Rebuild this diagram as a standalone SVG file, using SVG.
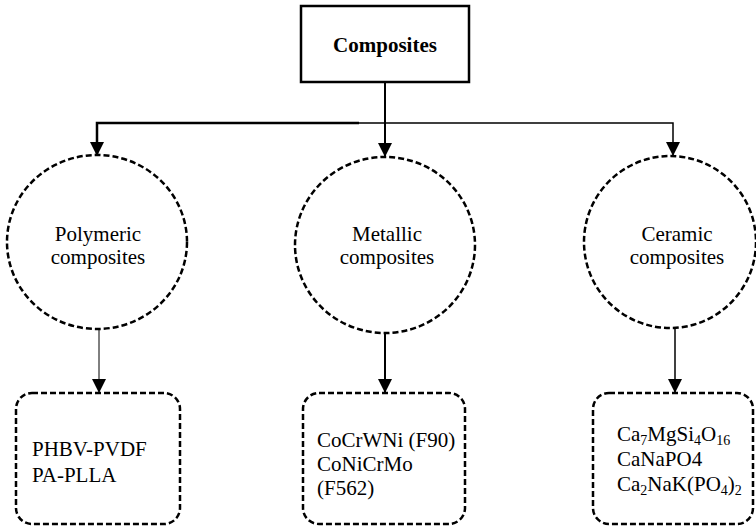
<svg xmlns="http://www.w3.org/2000/svg" width="756" height="529" viewBox="0 0 756 529">
<style>
text{font-family:'Liberation Serif','Times New Roman','DejaVu Serif',serif;font-size:21px;fill:#000}
.b{font-weight:bold}
.c{text-anchor:middle}
.ell{fill:none;stroke:#000;stroke-width:2.5;stroke-dasharray:6 3}
.box{fill:none;stroke:#000;stroke-width:2.5;stroke-dasharray:6 3}
.ln{fill:none;stroke:#000}
.s{font-size:14px}
</style>
<defs>
<marker id="ah" viewBox="0 0 14 16" refX="14" refY="7" markerWidth="14" markerHeight="16" markerUnits="userSpaceOnUse" orient="auto">
<path d="M0,0 L14,7 L0,14 Z" fill="#000"/>
</marker>
</defs>
<g id="connectors">
<line class="ln" x1="385" y1="82" x2="385" y2="123" stroke-width="2"/>
<polyline class="ln" points="359,123 97,123 97,156" stroke-width="2.5" marker-end="url(#ah)"/>
<polyline class="ln" points="358,123 673,123 673,156" stroke-width="1.5" marker-end="url(#ah)"/>
<line class="ln" x1="385" y1="123" x2="385" y2="157" stroke-width="2" marker-end="url(#ah)"/>
<line class="ln" x1="99" y1="329" x2="99" y2="393" stroke-width="1" marker-end="url(#ah)"/>
<line class="ln" x1="385" y1="333" x2="385" y2="393" stroke-width="2" marker-end="url(#ah)"/>
<line class="ln" x1="675" y1="328" x2="675" y2="393" stroke-width="1.5" marker-end="url(#ah)"/>
</g>
<g id="composites">
<rect x="301" y="6" width="168" height="76" fill="#fff" stroke="#000" stroke-width="2.5"/>
<text class="b c" x="385" y="52">Composites</text>
</g>
<g id="polymeric">
<ellipse class="ell" cx="97" cy="242" rx="90" ry="87"/>
<text class="c" x="98" y="241">Polymeric</text>
<text class="c" x="98" y="264">composites</text>
</g>
<g id="metallic">
<ellipse class="ell" cx="385" cy="245" rx="90" ry="88"/>
<text class="c" x="387" y="241">Metallic</text>
<text class="c" x="387" y="264">composites</text>
</g>
<g id="ceramic">
<ellipse class="ell" cx="670" cy="242" rx="86" ry="86"/>
<text class="c" x="677" y="241">Ceramic</text>
<text class="c" x="677" y="264">composites</text>
</g>
<g id="polymeric-examples">
<rect class="box" x="16" y="393" width="164" height="131" rx="16"/>
<text x="32" y="456">PHBV-PVDF</text>
<text x="32" y="482">PA-PLLA</text>
</g>
<g id="metallic-examples">
<rect class="box" x="303" y="393" width="162" height="131" rx="16"/>
<text x="317" y="447">CoCrWNi (F90)</text>
<text x="317" y="471">CoNiCrMo</text>
<text x="317" y="495">(F562)</text>
</g>
<g id="ceramic-examples">
<rect class="box" x="593" y="393" width="160" height="131" rx="16"/>
<text x="617" y="441">Ca<tspan class="s" dy="4">7</tspan><tspan dy="-4">MgSi</tspan><tspan class="s" dy="4">4</tspan><tspan dy="-4">O</tspan><tspan class="s" dy="4">16</tspan></text>
<text x="617" y="466">CaNaPO4</text>
<text x="617" y="491">Ca<tspan class="s" dy="4">2</tspan><tspan dy="-4">NaK(PO</tspan><tspan class="s" dy="4">4</tspan><tspan dy="-4">)</tspan><tspan class="s" dy="4">2</tspan></text>
</g>
</svg>
